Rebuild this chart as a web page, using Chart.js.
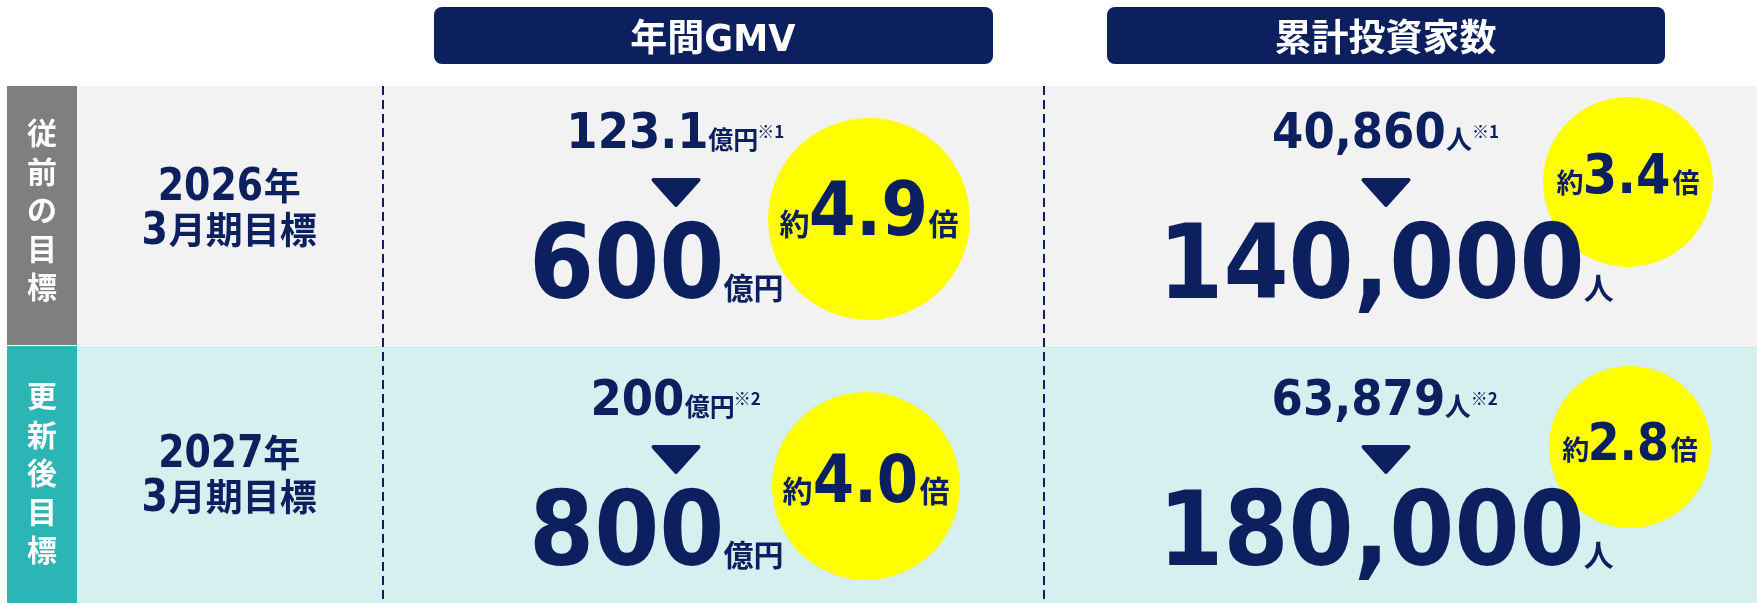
<!DOCTYPE html>
<html lang="ja">
<head>
<meta charset="utf-8">
<title>年間GMV・累計投資家数 目標</title>
<script src="https://cdn.jsdelivr.net/npm/chart.js@4.4.1/dist/chart.umd.min.js"></script>
<style>
  html, body { margin: 0; padding: 0; background: #fff; }
  #wrap { width: 1757px; height: 603px; position: relative; }
</style>
</head>
<body>
<div id="wrap"><canvas id="goalChart"></canvas></div>
<script>
// columns
var metrics = ["年間GMV", "累計投資家数"];
var units = ["億円", "人"];

// rows
var rowTags = ["従前の目標", "更新後目標"];
var periodYears = ["2026", "2027"];
var periodNames = ["月期目標", "月期目標"];   // preceded by fiscal month "3"
var fiscalMonth = ["3", "3"];
var noteMarks = ["※1", "※2"];

// values per row -> [GMV (億円), investors (人)]
var baseValues = [[123.1, 40860], [200, 63879]];
var targetValues = [[600, 140000], [800, 180000]];
var multiples = [[4.9, 3.4], [4.0, 2.8]];

// ---- layout (in scale units, same as canvas px) ----
var NAVY = "#0c1f5e";
var YELLOW = "#ffff00";
var rowBands = [[86, 345], [346, 603]];
var rowFill = ["#f2f2f2", "#d6efef"];
var tagFill = ["#7f7f7f", "#2bb5b5"];
var tagBand = [7, 77];
var dividerX = [383, 1044];
var headerBoxes = [[434, 993], [1107, 1665]];
var headerTop = 7, headerBottom = 64;
var rowShift = [0, 267];            // row 2 content sits lower
var topCenter = [677, 1386];        // "before" line
var bottomCenter = [658, 1391];     // target line
var arrowCenter = [676, 1386];
var smallUnitSize = [25, 26];
var SX = 0.9;                       // horizontal squeeze for the latin digits
// [cx, cy, r, numberSize, kanjiSize, baseline] per row, per metric
var bubbles = [
  [[869, 219, 101, 75, 30, 235], [1628, 182, 85, 55, 27, 193]],
  [[866, 486, 94, 66, 30, 502], [1630, 447, 81, 51, 27, 460]]
];

var LAT = "\"DejaVu Sans\", \"Noto Sans\", sans-serif";
var CJK = "\"Noto Sans CJK JP\", \"Noto Sans\", sans-serif";

function fmt(v) {
  return v.toLocaleString("en-US", { maximumFractionDigits: 1 });
}
function lat(text, size, extra) {
  return Object.assign({ text: text, font: "bold " + size + "px " + LAT, sx: SX }, extra || {});
}
function cjk(text, size, extra) {
  return Object.assign({ text: text, font: "bold " + size + "px " + CJK, sx: 1 }, extra || {});
}

// draw a run of text pieces centred on cx, spaced by their ink boxes
function drawRun(ctx, parts, cx, baseline) {
  ctx.textAlign = "left";
  ctx.textBaseline = "alphabetic";
  var total = 0;
  parts.forEach(function (p) {
    ctx.font = p.font;
    var mt = ctx.measureText(p.text);
    p.left = mt.actualBoundingBoxLeft * p.sx;
    p.w = (mt.actualBoundingBoxLeft + mt.actualBoundingBoxRight) * p.sx;
    total += p.w + (p.gap || 0);
  });
  var x = cx - total / 2;
  parts.forEach(function (p) {
    x += (p.gap || 0);
    ctx.save();
    ctx.font = p.font;
    ctx.translate(x + p.left, baseline + (p.dy || 0));
    ctx.scale(p.sx, 1);
    ctx.fillText(p.text, 0, 0);
    ctx.restore();
    x += p.w;
  });
}

var goalTable = {
  id: "goalTable",
  beforeDatasetsDraw: function (chart) {
    var ctx = chart.ctx;
    var sx = chart.scales.x, sy = chart.scales.y;
    var X = function (v) { return sx.getPixelForValue(v); };
    var Y = function (v) { return sy.getPixelForValue(v); };
    ctx.save();

    // header boxes
    metrics.forEach(function (name, m) {
      var b = headerBoxes[m];
      ctx.fillStyle = NAVY;
      ctx.beginPath();
      ctx.roundRect(X(b[0]), Y(headerTop), X(b[1]) - X(b[0]), Y(headerBottom) - Y(headerTop), 8);
      ctx.fill();
      ctx.fillStyle = "#fff";
      var kanji = name.replace(/[A-Za-z]+/, "");
      var latin = name.replace(kanji, "");
      var parts = [cjk(kanji, 37)];
      if (latin) parts.push(lat(latin, 37, { sx: 0.95, gap: 3 }));
      drawRun(ctx, parts, X((b[0] + b[1]) / 2), Y(51));
    });

    // row bands
    rowTags.forEach(function (tag, r) {
      var band = rowBands[r];
      ctx.fillStyle = rowFill[r];
      ctx.fillRect(X(tagBand[1]), Y(band[0]), X(1757) - X(tagBand[1]), Y(band[1]) - Y(band[0]));
      ctx.fillStyle = tagFill[r];
      ctx.fillRect(X(tagBand[0]), Y(band[0]), X(tagBand[1]) - X(tagBand[0]), Y(band[1]) - Y(band[0]));
    });

    // dashed column dividers
    ctx.strokeStyle = NAVY;
    ctx.lineWidth = 2;
    ctx.setLineDash([9, 5]);
    dividerX.forEach(function (dx) {
      ctx.beginPath();
      ctx.moveTo(X(dx), Y(rowBands[0][0]));
      ctx.lineTo(X(dx), Y(603));
      ctx.stroke();
    });
    ctx.setLineDash([]);

    // yellow bubbles
    bubbles.forEach(function (row) {
      row.forEach(function (b) {
        ctx.fillStyle = YELLOW;
        ctx.beginPath();
        ctx.arc(X(b[0]), Y(b[1]), b[2], 0, Math.PI * 2);
        ctx.fill();
      });
    });
    ctx.restore();
  },
  afterDatasetsDraw: function (chart) {
    var ctx = chart.ctx;
    var sx = chart.scales.x, sy = chart.scales.y;
    var X = function (v) { return sx.getPixelForValue(v); };
    var Y = function (v) { return sy.getPixelForValue(v); };
    ctx.save();

    rowTags.forEach(function (tag, r) {
      // vertical tag text
      ctx.fillStyle = "#fff";
      ctx.font = "bold 30px " + CJK;
      ctx.textAlign = "center";
      ctx.textBaseline = "middle";
      var start = r === 0 ? 133 : 396;
      Array.from(tag).forEach(function (ch, i) {
        ctx.fillText(ch, X(42), Y(start + i * 38.5));
      });

      // period label
      ctx.fillStyle = NAVY;
      var yTop = r === 0 ? 200 : 467;
      drawRun(ctx, [lat(periodYears[r], 44, { sx: 0.86 }), cjk("年", 37, { gap: 3 })], X(230), Y(yTop));
      drawRun(ctx, [lat(fiscalMonth[r], 44, { sx: 0.86 }), cjk(periodNames[r], 37, { gap: 3 })], X(230), Y(yTop + 44));

      metrics.forEach(function (name, m) {
        var s = rowShift[r];
        ctx.fillStyle = NAVY;
        // before value
        drawRun(ctx, [
          lat(fmt(baseValues[r][m]), 50),
          cjk(units[m], smallUnitSize[m], { gap: 2, dy: 1 }),
          cjk(noteMarks[r], 17, { gap: 2, dy: -10 })
        ], X(topCenter[m]), Y(148 + s));

        // arrow
        var ax = X(arrowCenter[m]), at = Y(180 + s);
        ctx.strokeStyle = NAVY;
        ctx.lineWidth = 4;
        ctx.lineJoin = "round";
        ctx.beginPath();
        ctx.moveTo(ax - 22.5, at);
        ctx.lineTo(ax + 22.5, at);
        ctx.lineTo(ax, Y(205 + s));
        ctx.closePath();
        ctx.fill();
        ctx.stroke();

        // target value
        drawRun(ctx, [
          lat(fmt(targetValues[r][m]), 104),
          cjk(units[m], 30, { gap: 3, dy: 1 })
        ], X(bottomCenter[m]), Y(298 + s));

        // multiple inside bubble
        var b = bubbles[r][m];
        drawRun(ctx, [
          cjk("約", b[4]),
          lat(multiples[r][m].toFixed(1), b[3], { gap: 3 }),
          cjk("倍", b[4], { gap: 4 })
        ], X(b[0]), Y(b[5]));
      });
    });
    ctx.restore();
  }
};

new Chart(document.getElementById("goalChart"), {
  type: "scatter",
  data: { datasets: [] },
  options: {
    responsive: true,
    maintainAspectRatio: false,
    animation: false,
    devicePixelRatio: 1,
    layout: { padding: 0 },
    plugins: { legend: { display: false }, tooltip: { enabled: false } },
    scales: {
      x: { type: "linear", min: 0, max: 1757, display: false },
      y: { type: "linear", min: 0, max: 603, reverse: true, display: false }
    }
  },
  plugins: [goalTable]
});
</script>
</body>
</html>
